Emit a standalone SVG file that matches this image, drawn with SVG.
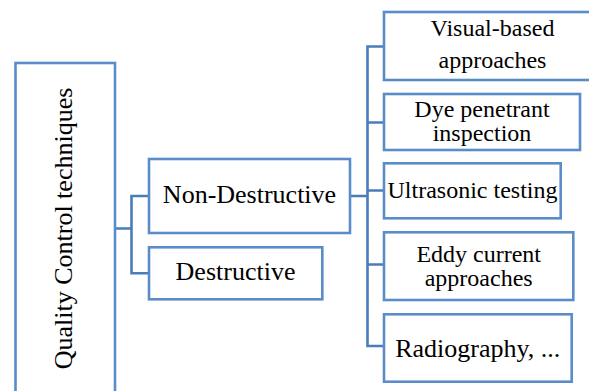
<svg xmlns="http://www.w3.org/2000/svg" width="589" height="391" viewBox="0 0 589 391">
<style>
.box{fill:#ffffff;stroke:#5a8dc8;stroke-width:2.6}
.t{font-family:"Liberation Serif","Times New Roman",serif;fill:#000000;text-anchor:middle}
.big{font-size:26px}
.sm{font-size:24px}
.con{fill:none;stroke:#4a7db9;stroke-width:2.6}
</style>
<rect width="589" height="391" fill="#ffffff"/>
<g id="connectors">
<path class="con" d="M115,228.5 H131.5 M131.5,196 V273.3 M130.2,196 H149 M130.2,273.3 H149"/>
<path class="con" d="M350,196 H367.5 M367.5,46.5 V346 M366.2,46.5 H384 M367.5,122.5 H384 M367.5,190.5 H384 M367.5,264.5 H384 M366.2,346 H384"/>
</g>
<g id="qc">
<rect class="box" x="15.5" y="63" width="99.5" height="345"/>
<text class="t big" transform="translate(71.5,228.5) rotate(-90)">Quality Control techniques</text>
</g>
<g id="nondestructive">
<rect class="box" x="149" y="159" width="201" height="74"/>
<text class="t big" x="249.5" y="203">Non-Destructive</text>
</g>
<g id="destructive">
<rect class="box" x="149" y="247.3" width="173.3" height="52"/>
<text class="t big" x="235.5" y="280">Destructive</text>
</g>
<g id="visual">
<rect class="box" x="384" y="12" width="217" height="68"/>
<text class="t sm" x="492.5" y="36">Visual-based</text>
<text class="t sm" x="492.5" y="68">approaches</text>
</g>
<g id="dye">
<rect class="box" x="384" y="94" width="196" height="56"/>
<text class="t sm" x="482" y="116.5">Dye penetrant</text>
<text class="t sm" x="482" y="141">inspection</text>
</g>
<g id="ultrasonic">
<rect class="box" x="384" y="163.3" width="176.7" height="55"/>
<text class="t sm" x="472.5" y="198">Ultrasonic testing</text>
</g>
<g id="eddy">
<rect class="box" x="384" y="232.3" width="189.3" height="67.7"/>
<text class="t sm" x="478.7" y="261.5">Eddy current</text>
<text class="t sm" x="478.7" y="285.5">approaches</text>
</g>
<g id="radiography">
<rect class="box" x="384" y="314.3" width="187.7" height="67.4"/>
<text class="t big" x="477.8" y="356.5">Radiography, ...</text>
</g>
</svg>
